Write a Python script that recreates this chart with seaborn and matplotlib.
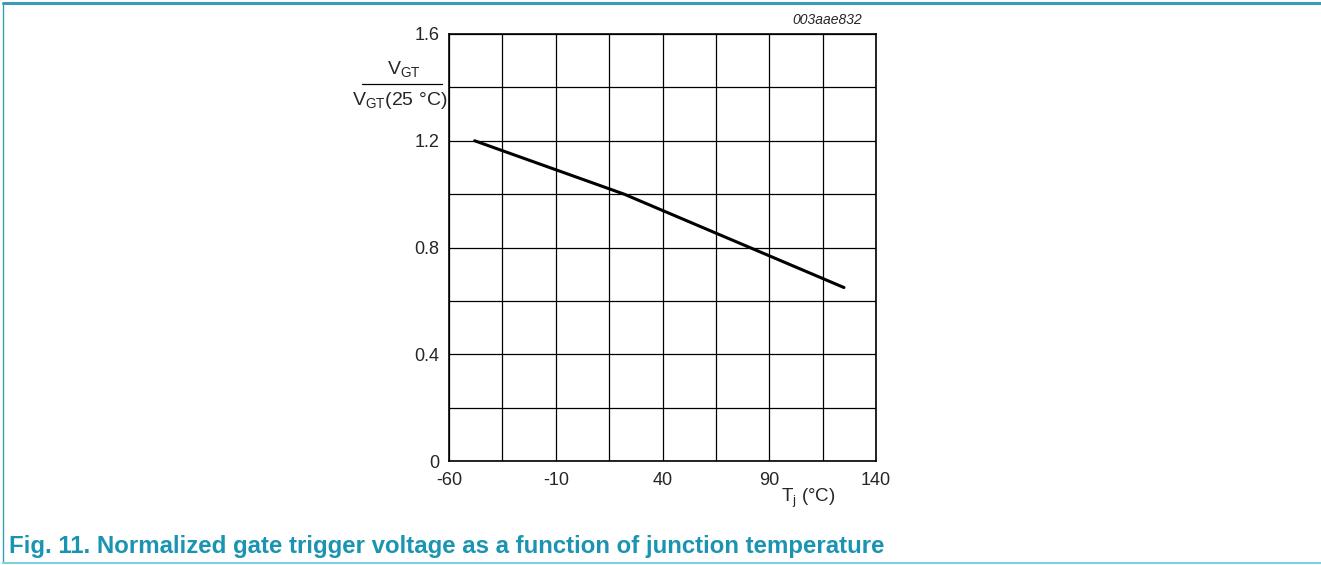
import numpy as np
import pandas as pd
import matplotlib
matplotlib.use("Agg")
import matplotlib.pyplot as plt
from matplotlib.lines import Line2D
from matplotlib.ticker import FixedLocator
import seaborn as sns

# Data
tj = [-48, 22, 125]
vgt_ratio = [1.2, 1.0, 0.65]

x_ticks = [-60, -10, 40, 90, 140]
y_ticks = [0, 0.4, 0.8, 1.2, 1.6]
x_grid = [-60, -35, -10, 15, 40, 65, 90, 115, 140]
y_grid = [0, 0.2, 0.4, 0.6, 0.8, 1.0, 1.2, 1.4, 1.6]

caption = "Fig. 11. Normalized gate trigger voltage as a function of junction temperature"
fig_code = "003aae832"

sns.set_style("white")
plt.rcParams['font.family'] = ['Liberation Sans', 'DejaVu Sans']
plt.rcParams['mathtext.fontset'] = 'custom'
plt.rcParams['mathtext.rm'] = 'Liberation Sans'
plt.rcParams['mathtext.it'] = 'Liberation Sans:italic'

TEAL = '#1a94b1'

fig = plt.figure(figsize=(13.21, 5.65), dpi=100)
ax = fig.add_axes([449 / 1321, 104 / 565, 427 / 1321, 427 / 565])

df = pd.DataFrame({"tj": tj, "ratio": vgt_ratio})
sns.lineplot(data=df, x="tj", y="ratio", ax=ax, color='black', linewidth=2.2)

ax.set_xlim(-60, 140)
ax.set_ylim(0, 1.6)
ax.xaxis.set_major_locator(FixedLocator(x_ticks))
ax.yaxis.set_major_locator(FixedLocator(y_ticks))
ax.xaxis.set_minor_locator(FixedLocator(x_grid))
ax.yaxis.set_minor_locator(FixedLocator(y_grid))
ax.set_xticklabels([str(v) for v in x_ticks])
ax.set_yticklabels(["0", "0.4", "0.8", "1.2", "1.6"])
ax.grid(False)
ax.grid(which='both', color='black', linewidth=0.9)
ax.tick_params(which='both', length=0, labelsize=13)
ax.tick_params(axis='x', pad=8)
ax.tick_params(axis='y', pad=7)
ax.set_xlabel("")
ax.set_ylabel("")
for s in ax.spines.values():
    s.set_color('black')
    s.set_linewidth(1.2)

# y label as a fraction
fig.text(404 / 1321, 1 - 69 / 565, r"V$_{\mathrm{GT}}$", ha='center', va='center', fontsize=14)
fig.add_artist(Line2D([362 / 1321, 442 / 1321], [1 - 84 / 565, 1 - 84 / 565], color='black', linewidth=0.9))
fig.text(400 / 1321, 1 - 100 / 565, r"V$_{\mathrm{GT}}$(25 °C)", ha='center', va='center', fontsize=14)

# x label
fig.text(808 / 1321, 1 - 498 / 565, r"T$_{\mathrm{j}}$ (°C)", ha='center', va='center', fontsize=13.5)

# figure code
fig.text(862 / 1321, 1 - 20 / 565, fig_code, ha='right', va='center', fontsize=10, style='italic')

# caption
fig.text(9 / 1321, 1 - 547 / 565, caption, ha='left', va='center', fontsize=17.3,
         fontweight='bold', color=TEAL)

# frame
fig.add_artist(Line2D([3 / 1321, 1], [1 - 3 / 565, 1 - 3 / 565], color='#3a9db3', linewidth=2.2))
fig.add_artist(Line2D([3 / 1321, 3 / 1321], [1 - 3 / 565, 1 - 563 / 565], color='#3a9db3', linewidth=1.0))
fig.add_artist(Line2D([3 / 1321, 1], [1 - 563 / 565, 1 - 563 / 565], color='#7fd0e2', linewidth=1.5))

fig.savefig("out.png", dpi=100, facecolor='white')
